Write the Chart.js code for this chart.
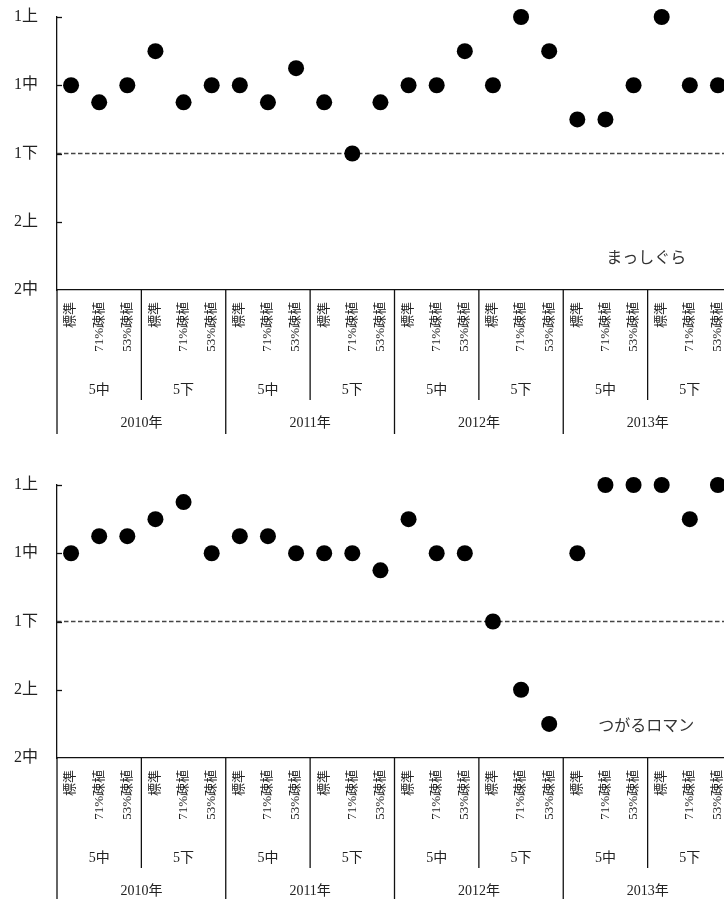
<!DOCTYPE html>
<html>
<head>
<meta charset="utf-8">
<script src="https://cdn.jsdelivr.net/npm/chart.js@4.4.1/dist/chart.umd.min.js"></script>
<style>
  html, body { margin: 0; padding: 0; background: #fff; }
  body { width: 724px; height: 899px; overflow: hidden; position: relative; }
  .panel { position: absolute; left: 0; }
  canvas { display: block; }
</style>
</head>
<body>
<div class="panel" style="top:0"><canvas id="chart-mashigura" width="740" height="468"></canvas></div>
<div class="panel" style="top:468px"><canvas id="chart-tsugaru" width="740" height="468"></canvas></div>
<script>
const years = ['2010年', '2011年', '2012年', '2013年'];
const sowingDates = ['5中', '5下'];
const treatments = ['標準', '71%疎植', '53%疎植'];
const levelLabels = ['2中', '2上', '1下', '1中', '1上'];

// level index: 0 = 2中, 1 = 2上, 2 = 1下, 3 = 1中, 4 = 1上 (read in quarter steps)
const mashiguraValues = [3, 2.75, 3, 3.5, 2.75, 3, 3, 2.75, 3.25, 2.75, 2, 2.75,
                         3, 3, 3.5, 3, 4, 3.5, 2.5, 2.5, 3, 4, 3, 3];
const tsugaruRomanValues = [3, 3.25, 3.25, 3.5, 3.75, 3, 3.25, 3.25, 3, 3, 3, 2.75,
                            3.5, 3, 3, 2, 1, 0.5, 3, 4, 4, 4, 3.5, 4];

const categoryLabels = [];
years.forEach(yr => sowingDates.forEach(d => treatments.forEach(t => {
    categoryLabels.push(yr + ' ' + d + ' ' + t);
})));

const FONT_FAMILY = "'Liberation Serif', 'Noto Sans CJK JP', serif";
const TEXT_COLOR = '#222';
const AXIS_COLOR = '#111';

// dashed 1下 line + multi-level category axis + inward y ticks + variety name
const hierarchyAxis = {
    id: 'hierarchyAxis',
    beforeDatasetsDraw(chart) {
        const { ctx, chartArea, scales: { y } } = chart;
        const yRef = y.getPixelForValue(2);
        ctx.save();
        ctx.strokeStyle = '#444';
        ctx.lineWidth = 1.4;
        ctx.setLineDash([4.5, 2.5]);
        ctx.beginPath();
        ctx.moveTo(chartArea.left, yRef);
        ctx.lineTo(chartArea.right, yRef);
        ctx.stroke();
        ctx.restore();
    },
    afterDraw(chart, args, opts) {
        const { ctx, chartArea, scales: { x, y } } = chart;
        const bottom = chartArea.bottom;
        const half = (x.getPixelForValue(1) - x.getPixelForValue(0)) / 2;
        ctx.save();

        // inward ticks on the y axis
        ctx.strokeStyle = AXIS_COLOR;
        ctx.lineWidth = 1.3;
        for (let v = 1; v < levelLabels.length; v++) {
            const py = Math.round(y.getPixelForValue(v)) + 0.5;
            ctx.beginPath();
            ctx.moveTo(chartArea.left, py);
            ctx.lineTo(chartArea.left + 5, py);
            ctx.stroke();
        }

        // group separators below the x axis
        const groupCount = years.length * sowingDates.length;
        for (let g = 0; g <= groupCount; g++) {
            const px = x.getPixelForValue(g * treatments.length) - half;
            const len = g % sowingDates.length === 0 ? 144 : 110;
            ctx.beginPath();
            ctx.moveTo(px, bottom);
            ctx.lineTo(px, bottom + len);
            ctx.stroke();
        }

        ctx.fillStyle = TEXT_COLOR;

        // treatment labels, rotated
        ctx.font = '13px ' + FONT_FAMILY;
        ctx.textAlign = 'right';
        ctx.textBaseline = 'middle';
        categoryLabels.forEach((_, i) => {
            const px = x.getPixelForValue(i);
            ctx.save();
            ctx.translate(px, bottom + 12);
            ctx.rotate(-Math.PI / 2);
            ctx.fillText(treatments[i % treatments.length], 0, 0);
            ctx.restore();
        });

        // sowing date labels
        ctx.font = '14px ' + FONT_FAMILY;
        ctx.textAlign = 'center';
        for (let g = 0; g < groupCount; g++) {
            const px = x.getPixelForValue(g * treatments.length + 1);
            ctx.fillText(sowingDates[g % sowingDates.length], px, bottom + 100);
        }

        // year labels
        const perYear = sowingDates.length * treatments.length;
        years.forEach((yr, k) => {
            const px = x.getPixelForValue(k * perYear + (perYear - 1) / 2);
            ctx.fillText(yr, px, bottom + 133);
        });

        // variety name
        ctx.font = '16px ' + FONT_FAMILY;
        ctx.fillStyle = '#333';
        ctx.fillText(opts.title, x.getPixelForValue(20.45), y.getPixelForValue(0.46));

        ctx.restore();
    }
};

function makeChart(canvasId, values, title) {
    return new Chart(document.getElementById(canvasId), {
        type: 'line',
        data: {
            labels: categoryLabels,
            datasets: [{
                data: values,
                showLine: false,
                pointRadius: 8,
                pointHoverRadius: 8,
                pointBackgroundColor: '#000',
                pointBorderColor: '#000',
                pointBorderWidth: 0,
                clip: false
            }]
        },
        options: {
            responsive: false,
            animation: false,
            devicePixelRatio: 1,
            layout: { padding: { top: 17, right: 8, bottom: 178, left: 0 } },
            plugins: {
                legend: { display: false },
                tooltip: { enabled: false },
                hierarchyAxis: { title: title }
            },
            scales: {
                x: {
                    offset: true,
                    ticks: { display: false },
                    grid: { display: false, drawTicks: false },
                    border: { display: true, color: AXIS_COLOR, width: 1.3 },
                    afterFit: s => { s.height = 0; s.paddingLeft = 0; s.paddingRight = 0; }
                },
                y: {
                    min: 0,
                    max: 4,
                    ticks: {
                        stepSize: 1,
                        padding: 19,
                        color: TEXT_COLOR,
                        font: { family: FONT_FAMILY, size: 16 },
                        callback: v => levelLabels[v]
                    },
                    grid: { display: false, drawTicks: false },
                    border: { display: true, color: AXIS_COLOR, width: 1.3 },
                    afterFit: s => { s.width = 57; s.paddingTop = 0; s.paddingBottom = 0; }
                }
            }
        },
        plugins: [hierarchyAxis]
    });
}

makeChart('chart-mashigura', mashiguraValues, 'まっしぐら');
makeChart('chart-tsugaru', tsugaruRomanValues, 'つがるロマン');
</script>
</body>
</html>
